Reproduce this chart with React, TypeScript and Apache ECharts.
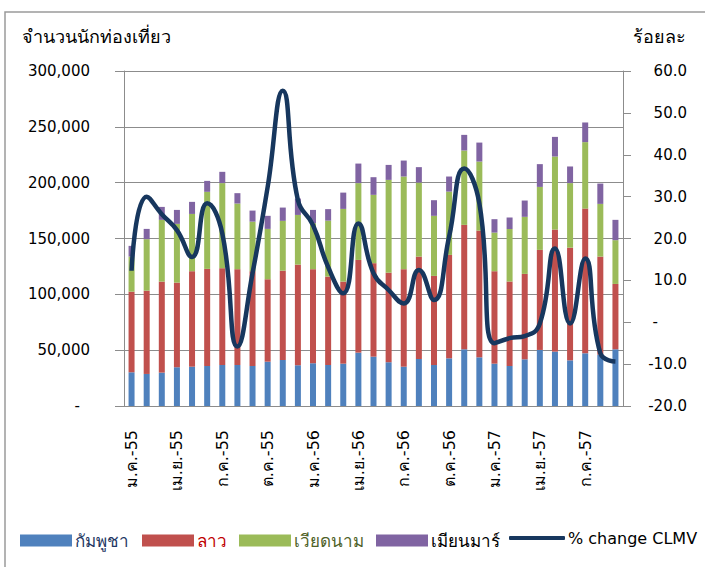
import React, { useEffect, useRef } from 'react';
import * as echarts from 'echarts';

const FONT = "Tahoma, 'DejaVu Sans', 'Noto Sans', sans-serif";

const categories = [
  'ม.ค.-55', 'ก.พ.-55', 'มี.ค.-55', 'เม.ย.-55', 'พ.ค.-55', 'มิ.ย.-55', 'ก.ค.-55', 'ส.ค.-55', 'ก.ย.-55', 'ต.ค.-55', 'พ.ย.-55', 'ธ.ค.-55',
  'ม.ค.-56', 'ก.พ.-56', 'มี.ค.-56', 'เม.ย.-56', 'พ.ค.-56', 'มิ.ย.-56', 'ก.ค.-56', 'ส.ค.-56', 'ก.ย.-56', 'ต.ค.-56', 'พ.ย.-56', 'ธ.ค.-56',
  'ม.ค.-57', 'ก.พ.-57', 'มี.ค.-57', 'เม.ย.-57', 'พ.ค.-57', 'มิ.ย.-57', 'ก.ค.-57', 'ส.ค.-57', 'ก.ย.-57',
];

const cambodia = [30200, 28700, 29900, 34700, 35200, 35800, 36700, 36700, 35800, 39700, 41200, 36500, 38300, 36700, 37900, 47800, 44200, 39200, 35200, 42100, 36700, 42700, 50800, 43600, 37900, 35800, 41800, 50200, 48700, 40900, 47200, 46000, 50800];
const laos = [72200, 74600, 81500, 75800, 85500, 87000, 86700, 85800, 84900, 73800, 80000, 90100, 84200, 79200, 73500, 83000, 83700, 80200, 87300, 91700, 79800, 92600, 111400, 113500, 82800, 75600, 76500, 89600, 109300, 100900, 129600, 87800, 58500];
const vietnam = [31400, 46100, 55300, 52600, 51300, 69000, 76200, 58800, 44400, 45100, 44600, 44500, 41200, 50100, 65100, 68800, 61200, 83100, 83000, 66300, 53800, 56700, 66600, 61800, 34600, 47200, 51100, 56400, 65400, 57800, 59500, 47200, 39200];
const myanmar = [9600, 9200, 11600, 12500, 10800, 9800, 10100, 9300, 9900, 11700, 11900, 14700, 11900, 10300, 14600, 17500, 15800, 13400, 14300, 13800, 14000, 13500, 14000, 17000, 12000, 10100, 14600, 20400, 17600, 14900, 17600, 18200, 18200];
const changeCLMV = [12.3, 30, 25.8, 22, 15.6, 28.4, 21.2, -5.8, 11.7, 32.3, 55.3, 29.2, 23.2, 13.2, 6.9, 23.6, 11.7, 7.7, 4.5, 12.5, 5.3, 20.4, 36.7, 28.4, -5, -3.8, -3.3, -0.3, 17.6, -0.3, 15.2, -7.4, -9.4];

const seriesNames = ['กัมพูชา', 'ลาว', 'เวียดนาม', 'เมียนมาร์', '% change CLMV'];
const barColors = ['#4F81BD', '#C0504D', '#9BBB59', '#8064A2'];
const legendTextColors = ['#1F3864', '#C00000', '#4F6228', '#000000', '#000000'];
const legendLefts = [20, 142, 239, 376, 509];

const GRID_COLOR = '#8c8c8c';
const LINE_COLOR = '#17375E';

export default function App() {
  const ref = useRef<HTMLDivElement>(null);
  useEffect(() => {
    const chart = echarts.init(ref.current!, null, { renderer: 'svg' });
    const barData = [cambodia, laos, vietnam, myanmar];
    const option: any = {
      animation: false,
      textStyle: { fontFamily: FONT },
      grid: { left: 124, right: 82, top: 71, bottom: 161, containLabel: false },
      legend: seriesNames.map((name, i) => ({
        left: legendLefts[i],
        top: i === 4 ? 530 : 532,
        padding: 0,
        itemGap: 0,
        itemWidth: i === 4 ? 56 : 52,
        itemHeight: i === 4 ? 4 : 12,
        selectedMode: false,
        textStyle: {
          fontSize: i === 4 ? 16 : 17,
          fontFamily: FONT,
          color: legendTextColors[i],
          padding: [0, 0, 0, -2],
        },
        data: [i === 4 ? { name, icon: 'roundRect' } : { name, icon: 'rect' }],
      })),
      graphic: [
        {
          type: 'rect',
          shape: { x: 5, y: 12, width: 800, height: 700 },
          style: { fill: 'none', stroke: '#9a9a9a', lineWidth: 1.5 },
          silent: true,
        },
        {
          type: 'text',
          left: 22,
          top: 27,
          style: { text: 'จำนวนนักท่องเที่ยว', fontSize: 18, fontFamily: FONT, fill: '#000' },
        },
        {
          type: 'text',
          right: 19,
          top: 27,
          style: { text: 'ร้อยละ', fontSize: 18, fontFamily: FONT, fill: '#000' },
        },
      ],
      xAxis: {
        type: 'category',
        data: categories,
        boundaryGap: true,
        axisLine: { lineStyle: { color: GRID_COLOR, width: 1 } },
        axisTick: { interval: 2, length: 6, lineStyle: { color: GRID_COLOR } },
        axisLabel: { interval: 2, rotate: 90, margin: 24, fontSize: 16, color: '#000', fontFamily: FONT },
      },
      yAxis: [
        {
          type: 'value',
          min: 0,
          max: 300000,
          interval: 50000,
          axisLine: { show: true, lineStyle: { color: GRID_COLOR } },
          axisTick: { show: true, length: 9, lineStyle: { color: GRID_COLOR } },
          splitLine: { show: true, lineStyle: { color: GRID_COLOR } },
          axisLabel: {
            margin: 34,
            fontSize: 15,
            color: '#000',
            fontFamily: FONT,
            formatter: (v: number) => (v === 0 ? '{d|-}' : v.toLocaleString('en-US')),
            rich: { d: { padding: [0, 10, 0, 0], fontSize: 15, color: '#000', fontFamily: FONT } },
          },
        },
        {
          type: 'value',
          position: 'right',
          min: -20,
          max: 60,
          interval: 10,
          axisLine: { show: true, lineStyle: { color: GRID_COLOR } },
          axisTick: { show: true, length: 8, lineStyle: { color: GRID_COLOR } },
          splitLine: { show: false },
          axisLabel: {
            margin: 64,
            align: 'right',
            fontSize: 15,
            color: '#000',
            fontFamily: FONT,
            formatter: (v: number) => (v === 0 ? '{d|-}' : v.toFixed(1)),
            rich: { d: { padding: [0, 29, 0, 0], fontSize: 15, color: '#000', fontFamily: FONT } },
          },
        },
      ],
      series: [
        ...barData.map((data, i) => ({
          name: seriesNames[i],
          type: 'bar',
          stack: 'clmv',
          yAxisIndex: 0,
          barWidth: 6,
          itemStyle: { color: barColors[i] },
          data,
        })),
        {
          name: seriesNames[4],
          type: 'line',
          yAxisIndex: 1,
          smooth: 0.5,
          symbol: 'none',
          lineStyle: { color: LINE_COLOR, width: 4.5 },
          itemStyle: { color: LINE_COLOR },
          z: 5,
          data: changeCLMV,
        },
      ],
    };
    chart.setOption(option);
    return () => chart.dispose();
  }, []);
  return <div ref={ref} style={{ position: 'fixed', left: 0, top: 0, width: 705, height: 567, background: '#fff' }} />;
}
